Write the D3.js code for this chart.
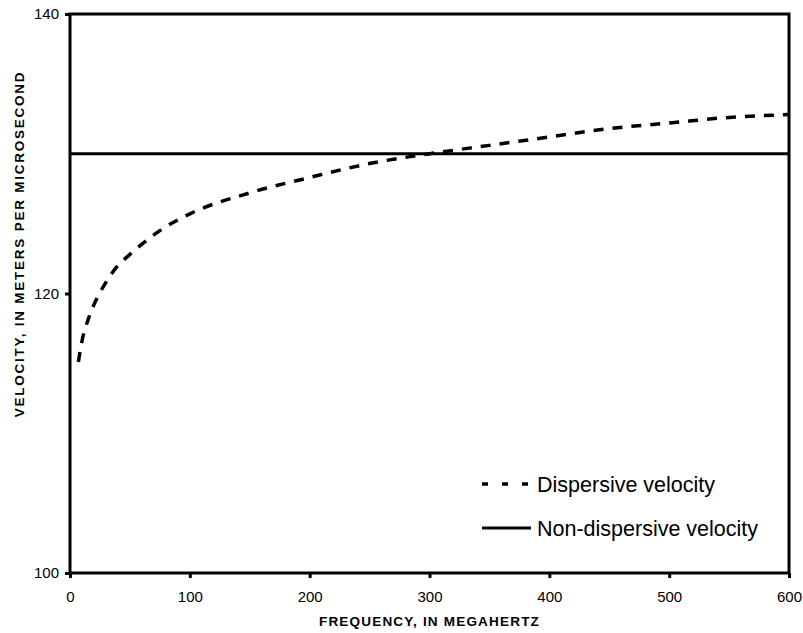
<!DOCTYPE html>
<html>
<head>
<meta charset="utf-8">
<script src="https://cdn.jsdelivr.net/npm/d3@7"></script>
<style>
  body { margin: 0; background: #fff; }
  svg { font-family: "Liberation Sans", Arial, sans-serif; }
</style>
</head>
<body>
<div id="chart"></div>
<script>
// values
const freq = [7, 10, 15, 20, 30, 40, 50, 75, 100, 150, 200, 250, 300, 350, 400, 450, 500, 550, 600];
const dispersive = [115.1, 116.6, 118.1, 119.2, 120.8, 122.0, 122.8, 124.5, 125.7, 127.2, 128.3, 129.3, 130.0, 130.6, 131.2, 131.8, 132.2, 132.6, 132.8];
const nonDispersive = 130;
const xTicks = [0, 100, 200, 300, 400, 500, 600];
const yTicks = [100, 120, 140];
const legendLabels = ["Dispersive velocity", "Non-dispersive velocity"];

const width = 803, height = 633;
const plotL = 70, plotR = 789, plotT = 14, plotB = 573;

const svg = d3.select("#chart").append("svg")
    .attr("width", width).attr("height", height);

const x = d3.scaleLinear().domain([0, 600]).range([plotL, plotR]);
const y = d3.scaleLinear().domain([100, 140]).range([plotB, plotT]);

// frame
svg.append("rect")
    .attr("x", plotL).attr("y", plotT)
    .attr("width", plotR - plotL).attr("height", plotB - plotT)
    .attr("fill", "none").attr("stroke", "#000").attr("stroke-width", 3);

const xAxis = svg.append("g")
    .attr("transform", `translate(0,${plotB})`)
    .call(d3.axisBottom(x).tickValues(xTicks).tickSize(5).tickPadding(13).tickFormat(d3.format("d")));
const yAxis = svg.append("g")
    .attr("transform", `translate(${plotL},0)`)
    .call(d3.axisLeft(y).tickValues(yTicks).tickSize(5).tickPadding(6).tickFormat(d3.format("d")));

[xAxis, yAxis].forEach(g => {
    g.select(".domain").remove();
    g.selectAll("line").attr("stroke", "#000").attr("stroke-width", 3);
    g.selectAll("text").attr("font-size", 15).attr("fill", "#000")
        .attr("font-family", "'Liberation Sans', Arial, sans-serif");
});

// non-dispersive line
svg.append("line")
    .attr("x1", x(0)).attr("x2", x(600))
    .attr("y1", y(nonDispersive)).attr("y2", y(nonDispersive))
    .attr("stroke", "#000").attr("stroke-width", 3);

// dispersive curve
const line = d3.line()
    .x((d, i) => x(freq[i]))
    .y(d => y(d))
    .curve(d3.curveMonotoneX);

svg.append("path")
    .datum(dispersive)
    .attr("d", line)
    .attr("fill", "none")
    .attr("stroke", "#000")
    .attr("stroke-width", 3.5)
    .attr("stroke-dasharray", "10,9");

// legend
const legendY = [484, 528];
svg.append("line")
    .attr("x1", 482).attr("x2", 528)
    .attr("y1", legendY[0]).attr("y2", legendY[0])
    .attr("stroke", "#000").attr("stroke-width", 3.5)
    .attr("stroke-dasharray", "6,14");
svg.append("line")
    .attr("x1", 482).attr("x2", 531)
    .attr("y1", legendY[1]).attr("y2", legendY[1])
    .attr("stroke", "#000").attr("stroke-width", 3);
svg.selectAll(".leg")
    .data(legendLabels)
    .enter().append("text")
    .attr("class", "leg")
    .attr("x", 537)
    .attr("y", (d, i) => legendY[i] + 8)
    .attr("font-size", 21.5)
    .text(d => d);

// axis titles
svg.append("text")
    .attr("x", (plotL + plotR) / 2).attr("y", 626)
    .attr("text-anchor", "middle")
    .attr("font-size", 13.5).attr("font-weight", "bold")
    .attr("letter-spacing", 1.2)
    .text("FREQUENCY, IN MEGAHERTZ");

svg.append("text")
    .attr("transform", "translate(24,244) rotate(-90)")
    .attr("text-anchor", "middle")
    .attr("font-size", 13.5).attr("font-weight", "bold")
    .attr("letter-spacing", 1.75)
    .text("VELOCITY, IN METERS PER MICROSECOND");
</script>
</body>
</html>
